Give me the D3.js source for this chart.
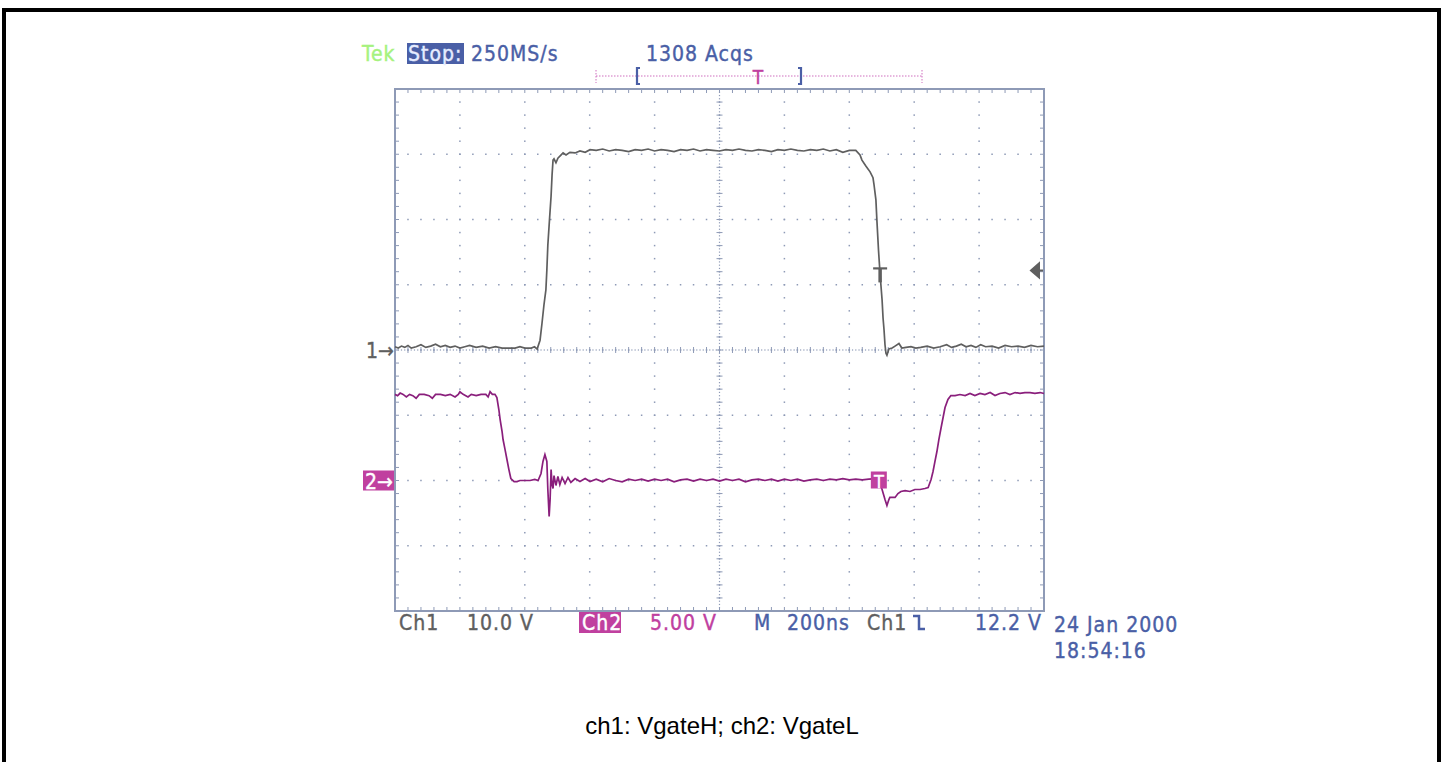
<!DOCTYPE html>
<html>
<head>
<meta charset="utf-8">
<script src="https://cdn.jsdelivr.net/npm/d3@7"></script>
<style>
  body { margin: 0; background: #fff; }
  .scope { font-family: "DejaVu Sans Condensed", "DejaVu Sans", sans-serif; font-size: 21px; letter-spacing: 1px; }
</style>
</head>
<body>
<svg id="chart" width="1443" height="762"></svg>
<script>
var width = 1443;
var height = 762;

// ch1: VgateH, time in ns from left edge of screen, volts
var ch1Time = [0, 10, 20, 30, 40, 50, 65, 80, 95, 110, 125, 140, 155, 170, 185, 200, 215, 230, 250, 270, 290, 310, 330, 350, 370, 385, 400, 420, 430,
    438, 447, 453, 459, 465, 468, 471, 476, 481, 484, 487, 490, 496, 502, 512, 518, 527, 539, 555, 570, 586, 601,
    620, 640, 660, 680, 700, 720, 740, 760, 780, 800, 820, 840, 860, 880, 900, 920, 940, 960, 980, 1000, 1020, 1040, 1060, 1080,
    1100, 1120, 1140, 1160, 1180, 1200, 1220, 1240, 1260, 1280, 1300, 1320, 1340, 1360, 1380, 1400, 1420,
    1433, 1439, 1451, 1464, 1473, 1476, 1482, 1485, 1490, 1495, 1501, 1504, 1507, 1510, 1513, 1516, 1522, 1532, 1541, 1553, 1562,
    1575, 1590, 1605, 1620, 1640, 1660, 1680, 1700, 1715, 1730, 1745, 1760, 1775, 1790, 1805, 1820, 1840, 1860, 1880, 1900, 1920, 1940, 1960, 1980, 2000];
var ch1Volts = [0.5, 0.3, 0.6, 0.4, 0.7, 0.3, 0.5, 0.8, 0.4, 0.6, 0.9, 0.5, 0.7, 0.4, 0.6, 0.3, 0.5, 0.7, 0.4, 0.6, 0.3, 0.5, 0.3, 0.3, 0.3, 0.5, 0.3, 0.3, 0.5,
    0.15, 1.5, 4.1, 6.9, 9.2, 12.3, 16.1, 19.9, 23.6, 26.8, 29.1, 29.3, 28.7, 29.4, 29.9, 30.2, 29.9, 30.3, 30.2, 30.5, 30.3, 30.7,
    30.6, 30.8, 30.5, 30.7, 30.6, 30.4, 30.7, 30.6, 30.8, 30.5, 30.7, 30.6, 30.4, 30.7, 30.6, 30.8, 30.5, 30.7, 30.6, 30.5, 30.7, 30.6, 30.8, 30.6,
    30.5, 30.7, 30.6, 30.4, 30.7, 30.6, 30.8, 30.6, 30.5, 30.7, 30.6, 30.8, 30.5, 30.7, 30.3, 30.6, 30.6,
    29.9, 29.1, 28.2, 27.3, 26.4, 25.4, 23.0, 19.9, 15.3, 11.5, 7.7, 4.9, 3.1, 0.8, -0.5, -0.8, 0.15, 0.3, 0.6, 1.0, 0.3,
    0.4, 0.5, 0.3, 0.4, 0.6, 0.3, 0.5, 0.8, 0.4, 0.6, 0.9, 0.5, 0.7, 0.4, 0.8, 0.5, 0.6, 0.3, 0.7, 0.5, 0.6, 0.4, 0.7, 0.5, 0.6];

// ch2: VgateL
var ch2Time = [0, 8, 16, 25, 35, 45, 55, 65, 75, 90, 105, 115, 125, 140, 155, 170, 185, 195, 200, 210, 225, 235, 250, 265, 280, 287, 293, 300,
    308, 314, 320, 324, 330, 333, 339, 345, 351, 357, 367, 376, 385, 401, 416, 431, 441, 450, 456, 462, 468, 471, 475, 478, 481, 484, 487, 490,
    496, 502, 508, 515, 524, 533, 542, 555, 570, 586, 601,
    620, 640, 660, 680, 700, 720, 740, 760, 780, 800, 820, 840, 860, 880, 900, 920, 940, 960, 980, 1000, 1020, 1040, 1060, 1080,
    1100, 1120, 1140, 1160, 1180, 1200, 1220, 1240, 1260, 1280, 1300, 1320, 1340, 1360, 1380, 1400, 1420, 1440, 1460,
    1485, 1495, 1501, 1510, 1516, 1522, 1525, 1541, 1550, 1559, 1572, 1587, 1602, 1618, 1633, 1643, 1652, 1658, 1664, 1670, 1676, 1683, 1689, 1695,
    1704, 1713, 1726, 1741, 1757, 1772, 1787, 1803, 1818, 1834, 1849, 1864, 1880, 1895, 1911, 1926, 1941, 1957, 1972, 1988, 2000];
var ch2Volts = [6.6, 6.5, 6.7, 6.6, 6.4, 6.6, 6.5, 6.3, 6.6, 6.6, 6.5, 6.3, 6.6, 6.6, 6.5, 6.6, 6.4, 6.6, 6.8, 6.6, 6.4, 6.6, 6.5, 6.6, 6.6, 6.4, 6.8, 6.6,
    6.6, 6.36, 5.44, 4.67, 3.75, 3.14, 2.38, 1.61, 0.84, 0.15, -0.08, -0.08, 0, 0, 0, 0.08, 0, 0.54, 1.46, 1.99, 1.46, -0.69, -2.76, -1.46, 0.84, -0.31, -0.61, 0.38,
    -0.38, 0.31, -0.31, 0.23, -0.23, 0.23, -0.15, 0.15, -0.08, 0.15, -0.08,
    0.1, -0.1, 0.15, 0, -0.1, 0.1, 0, 0.1, -0.05, 0.1, 0, 0.1, -0.1, 0.05, 0.1, -0.05, 0.1, 0, 0.1, -0.05, 0.1, 0, 0.1, -0.1,
    0.05, 0.1, 0, 0.1, -0.05, 0.1, 0, 0.1, -0.05, 0.05, 0.1, 0, 0.1, 0.05, 0.15, 0.05, 0.1, 0.05, 0.1,
    0.15, -0.23, -0.69, -1.46, -1.92, -1.46, -1.30, -1.30, -1.0, -0.84, -0.77, -0.84, -0.69, -0.69, -0.61, -0.54, 0.08, 0.69, 1.46, 2.22, 3.14, 4.06, 4.83, 5.59,
    6.21, 6.51, 6.51, 6.59, 6.51, 6.67, 6.51, 6.67, 6.59, 6.74, 6.51, 6.67, 6.74, 6.59, 6.74, 6.67, 6.74, 6.74, 6.67, 6.74, 6.67];

// readouts
var topLabels = { tek: "Tek", stop: "Stop:", rate: "250MS/s", acqs: "1308 Acqs" };
var bottomLabels = ["Ch1", "10.0 V", "Ch2", "5.00 V", "M", "200ns", "Ch1", "12.2 V"];
var dateLabels = ["24 Jan 2000", "18:54:16"];
var caption = "ch1: VgateH; ch2: VgateL";
var trigLevel = 12.2;

var gridCol = "#8e9ab6";
var blue = "#4a5fa6";
var magenta = "#c0409f";
var ch1Col = "#5f5f5f";
var ch2Col = "#8a1f7c";

var svg = d3.select("#chart");

// outer frame
svg.append("rect")
    .attr("x", 4).attr("y", 10)
    .attr("width", 1435).attr("height", 800)
    .attr("fill", "none").attr("stroke", "#000").attr("stroke-width", 4);

var pLeft = 395, pRight = 1044, pTop = 89, pBottom = 611;
var x = d3.scaleLinear().domain([0, 2000]).range([pLeft, pRight]);
var y1 = d3.scaleLinear().domain([-40, 40]).range([pBottom, pTop]);   // 10 V/div
var y2 = d3.scaleLinear().domain([-10, 30]).range([pBottom, pTop]);   // 5 V/div
var gx = d3.scaleLinear().domain([0, 10]).range([pLeft, pRight]);
var gy = d3.scaleLinear().domain([0, 8]).range([pTop, pBottom]);

var grid = svg.append("g").attr("fill", gridCol);

// dotted graticule lines, one dot every 0.2 div
d3.range(1, 10).forEach(function (i) {
    d3.range(0, 40.01, 1).forEach(function (k) {
        grid.append("rect").attr("x", gx(i) - 0.75).attr("y", gy(k / 5) - 0.75).attr("width", 1.5).attr("height", 1.5);
    });
});
d3.range(1, 8).forEach(function (j) {
    d3.range(0, 50.01, 1).forEach(function (k) {
        grid.append("rect").attr("x", gx(k / 5) - 0.75).attr("y", gy(j) - 0.75).attr("width", 1.5).attr("height", 1.5);
    });
});

// centre axes: dense dots and minor ticks
var cx = gx(5), cy = gy(4);
d3.range(0, 200.01, 1).forEach(function (k) {
    grid.append("rect").attr("x", gx(k / 20) - 0.6).attr("y", cy - 0.6).attr("width", 1.2).attr("height", 1.2);
});
d3.range(0, 160.01, 1).forEach(function (k) {
    grid.append("rect").attr("x", cx - 0.6).attr("y", gy(k / 20) - 0.6).attr("width", 1.2).attr("height", 1.2);
});
var tk = svg.append("g").attr("stroke", gridCol).attr("stroke-width", 1);
d3.range(0, 50.01, 1).forEach(function (k) {
    var xx = gx(k / 5);
    tk.append("line").attr("x1", xx).attr("x2", xx).attr("y1", cy - 3).attr("y2", cy + 3);
    tk.append("line").attr("x1", xx).attr("x2", xx).attr("y1", pTop).attr("y2", pTop + 4);
    tk.append("line").attr("x1", xx).attr("x2", xx).attr("y1", pBottom - 4).attr("y2", pBottom);
});
d3.range(0, 40.01, 1).forEach(function (k) {
    var yy = gy(k / 5);
    tk.append("line").attr("y1", yy).attr("y2", yy).attr("x1", cx - 3).attr("x2", cx + 3);
    tk.append("line").attr("y1", yy).attr("y2", yy).attr("x1", pLeft).attr("x2", pLeft + 4);
    tk.append("line").attr("y1", yy).attr("y2", yy).attr("x1", pRight - 4).attr("x2", pRight);
});

svg.append("rect")
    .attr("x", pLeft).attr("y", pTop)
    .attr("width", pRight - pLeft).attr("height", pBottom - pTop)
    .attr("fill", "none").attr("stroke", gridCol).attr("stroke-width", 2);

// traces
var line1 = d3.line().x(function (d, i) { return x(ch1Time[i]); }).y(function (d) { return y1(d); });
var line2 = d3.line().x(function (d, i) { return x(ch2Time[i]); }).y(function (d) { return y2(d); });

svg.append("path").datum(ch1Volts)
    .attr("d", line1).attr("fill", "none").attr("stroke", ch1Col).attr("stroke-width", 1.7);
svg.append("path").datum(ch2Volts)
    .attr("d", line2).attr("fill", "none").attr("stroke", ch2Col).attr("stroke-width", 1.7);

// trigger T on ch1 falling edge
var tX = x(1495), tY = y1(trigLevel);
svg.append("line").attr("x1", tX - 7).attr("x2", tX + 7).attr("y1", tY - 2).attr("y2", tY - 2).attr("stroke", ch1Col).attr("stroke-width", 2.2);
svg.append("line").attr("x1", tX).attr("x2", tX).attr("y1", tY - 2).attr("y2", tY + 12).attr("stroke", ch1Col).attr("stroke-width", 3.5);

// trigger level arrow on right
svg.append("path")
    .attr("d", "M" + (pRight - 13) + "," + tY + "l8,-7v14z M" + (pRight - 6) + "," + tY + "h5")
    .attr("fill", ch1Col).attr("stroke", ch1Col).attr("stroke-width", 2);

// ch2 T box
var t2X = x(1491);
svg.append("rect").attr("x", t2X - 8).attr("y", y2(0) - 9).attr("width", 16).attr("height", 17).attr("fill", magenta);
svg.append("text").attr("class", "scope").attr("x", t2X).attr("y", y2(0) + 7)
    .attr("text-anchor", "middle").attr("fill", "#fff").style("font-size", "18px").style("letter-spacing", "0").text("T");

// channel ground markers
svg.append("text").attr("class", "scope").attr("x", 366).attr("y", y1(0) + 8)
    .attr("fill", ch1Col).style("letter-spacing", "0").text("1\u2192");
svg.append("rect").attr("x", 363).attr("y", y2(0) - 10).attr("width", 31).attr("height", 20).attr("fill", magenta);
svg.append("text").attr("class", "scope").attr("x", 365).attr("y", y2(0) + 8)
    .attr("fill", "#fff").style("letter-spacing", "0").text("2\u2192");

// top readout
svg.append("text").attr("class", "scope").attr("x", 362).attr("y", 61).attr("fill", "#a6f27e").text(topLabels.tek);
svg.append("rect").attr("x", 407).attr("y", 43).attr("width", 57).attr("height", 21).attr("fill", blue);
svg.append("text").attr("class", "scope").attr("x", 408).attr("y", 61).attr("fill", "#e6ecff").text(topLabels.stop);
svg.append("text").attr("class", "scope").attr("x", 471).attr("y", 61).attr("fill", blue).text(topLabels.rate);
svg.append("text").attr("class", "scope").attr("x", 646).attr("y", 61).attr("fill", blue).text(topLabels.acqs);

// record bar
var rb = svg.append("g").attr("stroke", "#cf6fbf").attr("stroke-width", 1).attr("stroke-dasharray", "1.5,1.5").attr("fill", "none");
rb.append("line").attr("x1", 596).attr("x2", 922).attr("y1", 76).attr("y2", 76);
rb.append("line").attr("x1", 596).attr("x2", 596).attr("y1", 70).attr("y2", 83);
rb.append("line").attr("x1", 922).attr("x2", 922).attr("y1", 70).attr("y2", 83);
svg.append("path").attr("d", "M640,68h-3v16h3 M798,68h3v16h-3").attr("fill", "none").attr("stroke", blue).attr("stroke-width", 2.2);
svg.append("text").attr("class", "scope").attr("x", 758).attr("y", 84).attr("text-anchor", "middle")
    .attr("fill", magenta).style("font-size", "19px").style("letter-spacing", "0").text("T");

// bottom readout
var bx = [399, 467, 582, 650, 754, 787, 867, 975];
var bcol = [ch1Col, ch1Col, "#fff", magenta, blue, blue, ch1Col, blue];
svg.append("rect").attr("x", 579).attr("y", 612).attr("width", 42).attr("height", 21).attr("fill", magenta);
bottomLabels.forEach(function (s, i) {
    svg.append("text").attr("class", "scope").attr("x", bx[i]).attr("y", 630).attr("fill", bcol[i]).text(s);
});
// falling slope symbol
svg.append("path").attr("d", "M913,616h6v13h6").attr("fill", "none").attr("stroke", blue).attr("stroke-width", 2.5);

svg.append("text").attr("class", "scope").attr("x", 1054).attr("y", 632).attr("fill", blue).text(dateLabels[0]);
svg.append("text").attr("class", "scope").attr("x", 1054).attr("y", 658).attr("fill", blue).text(dateLabels[1]);

// slightly heavier readout glyphs, like the scope's screen font
svg.selectAll("text.scope").each(function () {
    var t = d3.select(this);
    t.attr("stroke", t.attr("fill")).attr("stroke-width", 0.4);
});

svg.append("text")
    .attr("x", 722).attr("y", 734)
    .attr("text-anchor", "middle")
    .style("font-family", "'Liberation Sans', Arial, sans-serif")
    .style("font-size", "24px")
    .attr("fill", "#000")
    .text(caption);
</script>
</body>
</html>
